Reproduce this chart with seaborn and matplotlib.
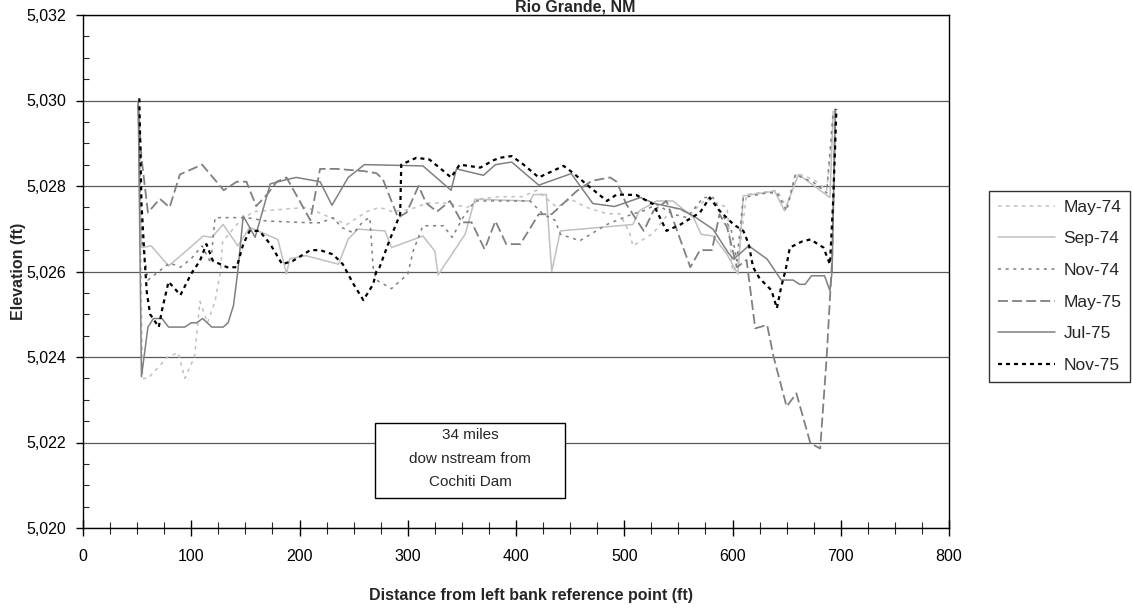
import matplotlib
matplotlib.use("Agg")
import matplotlib.pyplot as plt
import seaborn as sns
from matplotlib.ticker import MultipleLocator, FuncFormatter
from matplotlib.patches import Rectangle

# ---------------- data ----------------
may74_x = [51, 53, 55, 60, 71, 78, 88, 94, 103, 108, 115, 122, 127, 129, 142, 157, 182, 207, 225, 244,
           262, 274, 286, 302, 318, 336, 355, 367, 385, 406, 419, 438, 450, 465, 484, 496, 505, 508, 527,
           545, 561, 576, 595, 600, 605, 613, 641, 650, 659, 675, 687, 693, 695]
may74_y = [5030.0, 5027.0, 5023.5, 5023.5, 5023.8, 5024.0, 5024.1, 5023.5, 5024.0, 5025.3, 5024.8, 5025.3,
           5026.0, 5026.7, 5027.1, 5027.4, 5027.45, 5027.5, 5027.3, 5027.1, 5027.4, 5027.5, 5027.4, 5027.45,
           5027.6, 5027.6, 5027.5, 5027.7, 5027.75, 5027.75, 5027.9, 5027.5, 5027.7, 5027.5, 5027.35, 5027.35,
           5026.9, 5026.6, 5026.9, 5027.5, 5027.35, 5027.7, 5027.5, 5026.0, 5026.2, 5027.8, 5027.9, 5027.5,
           5028.3, 5028.15, 5027.9, 5029.4, 5029.8]

sep74_x = [51, 52.6, 54, 63, 79, 99, 111, 119, 129.5, 143, 154, 180, 188, 191, 206, 236, 245, 254, 279, 285,
           314, 325, 328, 353, 362, 413, 416, 428, 433, 441, 508, 514, 530, 545, 564, 571, 582, 595, 605, 610,
           639, 648, 661, 690, 693]
sep74_y = [5029.95, 5028.0, 5026.56, 5026.6, 5026.13, 5026.56, 5026.83, 5026.8, 5027.1, 5026.6, 5027.03,
           5026.75, 5025.94, 5026.3, 5026.37, 5026.17, 5026.76, 5026.99, 5026.95, 5026.56, 5026.83, 5026.48,
           5025.92, 5026.87, 5027.69, 5027.65, 5027.8, 5027.8, 5026.0, 5026.95, 5027.1, 5027.42, 5027.65,
           5027.65, 5027.26, 5026.87, 5026.83, 5026.4, 5025.94, 5027.77, 5027.88, 5027.42, 5028.27, 5027.73,
           5029.75]

nov74_x = [51, 54, 60, 70, 80, 90, 100, 110, 118, 122, 151, 170, 210, 220, 231, 239, 250, 259, 265, 268,
           271, 285, 300, 305, 314, 333, 341, 351, 362, 413, 425, 436, 441, 459, 484, 507, 518, 530, 545, 558,
           573, 582, 588, 599, 604, 610, 632, 641, 650, 658, 675, 687, 693]
nov74_y = [5029.9, 5026.8, 5025.8, 5026.0, 5026.2, 5026.1, 5026.3, 5026.6, 5026.2, 5027.26, 5027.26,
           5027.18, 5027.14, 5027.14, 5027.26, 5027.03, 5026.9, 5027.18, 5027.26, 5026.1, 5025.8, 5025.6,
           5025.94, 5026.48, 5027.07, 5027.07, 5026.8, 5027.26, 5027.65, 5027.65, 5027.34, 5027.2, 5026.87,
           5026.72, 5027.1, 5027.34, 5027.42, 5027.57, 5027.34, 5027.26, 5027.73, 5027.73, 5027.45, 5026.95,
           5026.25, 5027.73, 5027.84, 5027.84, 5027.42, 5028.27, 5028.08, 5027.84, 5029.75]

may75_x = [51, 54, 60, 71, 80, 89.5, 110, 130, 142, 151, 160, 170, 179, 188, 210, 219, 234, 259, 271, 277,
           291, 299, 310, 317, 327, 339, 350, 359, 371, 381, 391, 404, 421, 433, 456, 470, 487, 493, 502, 518,
           527, 539, 550, 561, 570, 581, 588, 595, 604, 613, 621, 632, 638, 650, 659, 672, 681, 687, 692, 695]
may75_y = [5029.9, 5028.66, 5027.38, 5027.7, 5027.5, 5028.27, 5028.5, 5027.9, 5028.1, 5028.1, 5027.53,
           5027.8, 5028.1, 5028.2, 5027.2, 5028.4, 5028.4, 5028.35, 5028.3, 5028.16, 5027.26, 5027.38, 5028.0,
           5027.6, 5027.4, 5027.65, 5027.15, 5027.15, 5026.52, 5027.18, 5026.64, 5026.64, 5027.34, 5027.34,
           5027.88, 5028.12, 5028.2, 5028.1, 5027.57, 5026.95, 5027.42, 5027.65, 5026.87, 5026.1, 5026.5,
           5026.5, 5027.34, 5027.03, 5026.1, 5026.27, 5024.67, 5024.75, 5024.0, 5022.84, 5023.15, 5021.98,
           5021.86, 5024.0, 5026.27, 5029.8]

jul75_x = [51, 54, 60, 65, 73, 79, 94, 100, 105, 110.5, 119, 129.5, 134, 139, 143, 148, 159, 173, 188, 197,
           219, 230, 245, 260, 314, 340, 345, 370, 381, 396, 421, 451, 471, 491, 515, 528, 552, 564, 582, 596,
           601, 615, 632, 645, 656, 662, 667, 673, 685, 690, 692, 695]
jul75_y = [5029.95, 5023.54, 5024.7, 5024.9, 5024.9, 5024.7, 5024.7, 5024.8, 5024.8, 5024.9, 5024.7,
           5024.7, 5024.8, 5025.2, 5026.0, 5027.3, 5026.8, 5028.05, 5028.15, 5028.2, 5028.1, 5027.55, 5028.2,
           5028.5, 5028.47, 5027.9, 5028.4, 5028.25, 5028.5, 5028.56, 5028.02, 5028.29, 5027.59, 5027.52,
           5027.73, 5027.59, 5027.46, 5027.3, 5026.99, 5026.44, 5026.29, 5026.6, 5026.29, 5025.8, 5025.8,
           5025.7, 5025.7, 5025.9, 5025.9, 5025.55, 5026.0, 5029.8]

nov75_x = [52, 54, 57, 59, 62, 70, 73, 79, 90, 100, 108, 114, 120, 133, 142, 148, 154, 163, 173, 184, 194,
           210, 219, 231, 240, 250, 259, 268, 271, 274, 283, 293, 294, 308, 320, 333, 340, 348, 367, 379, 385,
           396, 407, 421, 444, 453, 465, 484, 493, 511, 527, 539, 552, 570, 579, 588, 601, 610, 615, 619, 625,
           636, 641, 645, 649, 653, 664, 672, 684, 690, 693, 696]
nov75_y = [5030.05, 5027.6, 5026.25, 5025.5, 5025.0, 5024.7, 5025.1, 5025.76, 5025.45, 5025.95, 5026.25,
           5026.64, 5026.25, 5026.1, 5026.1, 5026.64, 5026.95, 5026.95, 5026.64, 5026.17, 5026.25, 5026.5,
           5026.5, 5026.4, 5026.17, 5025.7, 5025.33, 5025.7, 5026.0, 5026.1, 5026.72, 5027.34, 5028.5, 5028.66,
           5028.62, 5028.35, 5028.2, 5028.5, 5028.43, 5028.6, 5028.66, 5028.7, 5028.5, 5028.2, 5028.47, 5028.3,
           5028.04, 5027.65, 5027.8, 5027.79, 5027.57, 5026.95, 5027.1, 5027.38, 5027.73, 5027.42, 5027.1,
           5026.95, 5026.64, 5026.1, 5025.84, 5025.56, 5025.14, 5025.64, 5026.03, 5026.56, 5026.7, 5026.75,
           5026.56, 5026.17, 5027.65, 5029.8]

series_labels = ["May-74", "Sep-74", "Nov-74", "May-75", "Jul-75", "Nov-75"]
title_text = "Rio Grande, NM"
note_lines = ["34 miles", "dow nstream from", "Cochiti Dam"]

# ---------------- styling ----------------
sns.set_style("white")
plt.rcParams['font.family'] = ['Liberation Sans', 'DejaVu Sans']

LIGHT = "#c0c0c0"
MID = "#808080"
series = [
    (series_labels[0], may74_x, may74_y, LIGHT, (0, (2.3, 2.9)), 1.1),
    (series_labels[1], sep74_x, sep74_y, LIGHT, "-", 1.1),
    (series_labels[2], nov74_x, nov74_y, MID, (0, (2.0, 3.0)), 1.1),
    (series_labels[3], may75_x, may75_y, MID, (0, (5.5, 2.3)), 1.3),
    (series_labels[4], jul75_x, jul75_y, MID, "-", 1.1),
    (series_labels[5], nov75_x, nov75_y, "black", (0, (1.8, 1.8)), 1.6),
]

fig = plt.figure(figsize=(11.32, 6.13), dpi=100)
W, H = 1132, 613
ax = fig.add_axes([83 / W, 1 - 528 / H, (949 - 83) / W, (528 - 15) / H])

for name, xs, ys, color, ls, lw in series:
    sns.lineplot(x=xs, y=ys, ax=ax, color=color, linestyle=ls, linewidth=lw,
                 estimator=None, sort=False, label=name)

handles, labels = ax.get_legend_handles_labels()
if ax.get_legend() is not None:
    ax.get_legend().remove()

ax.set_xlim(0, 800)
ax.set_ylim(5020, 5032)
ax.xaxis.set_major_locator(MultipleLocator(100))
ax.xaxis.set_minor_locator(MultipleLocator(25))
ax.yaxis.set_major_locator(MultipleLocator(2))
ax.yaxis.set_minor_locator(MultipleLocator(0.5))
ax.yaxis.set_major_formatter(FuncFormatter(lambda v, p: f"{v:,.0f}"))

ax.grid(False)
ax.grid(True, axis='y', which='major', color='#5a5a5a', linewidth=0.9)
ax.set_axisbelow(True)

for s in ax.spines.values():
    s.set_visible(True)
    s.set_color('black')
    s.set_linewidth(1.0)

ax.tick_params(axis='x', which='major', direction='inout', length=12, width=1, pad=9,
               labelsize=11.5, colors='black', bottom=True)
ax.tick_params(axis='x', which='minor', direction='inout', length=8, width=0.8, bottom=True)
ax.tick_params(axis='y', which='major', direction='out', length=5, width=1, pad=7,
               labelsize=11.5, colors='black', left=True)
ax.tick_params(axis='y', which='minor', direction='in', length=4, width=0.8, left=True)

ax.set_xlabel("Distance from left bank reference point (ft)", fontsize=11.5, fontweight='bold')
ax.set_ylabel("Elevation (ft)", fontsize=11.5, fontweight='bold')
ax.xaxis.set_label_coords(0.517, -0.116)
ax.yaxis.set_label_coords(-0.066, 0.5)

fig.text(0.508, 1 - 11 / H, title_text, ha='center', va='baseline',
         fontsize=11.5, fontweight='bold')

# annotation box
ax.add_patch(Rectangle((0.337, 0.058), 0.220, 0.147, transform=ax.transAxes,
                       facecolor='white', edgecolor='black', linewidth=1.0, zorder=5))
for txt, yy in zip(note_lines, [0.181, 0.135, 0.090]):
    ax.text(0.447, yy, txt, transform=ax.transAxes, ha='center', va='center',
            fontsize=11, zorder=6)

leg = fig.legend(handles, labels, loc='upper left', bbox_to_anchor=(989 / W, 1 - 191 / H),
                 frameon=True, fancybox=False, edgecolor='black', fontsize=12.5,
                 handlelength=3.3, handletextpad=0.5, labelspacing=0.95, borderpad=0.5,
                 borderaxespad=0)
leg.get_frame().set_linewidth(1.0)

fig.savefig("out.png", dpi=100)
